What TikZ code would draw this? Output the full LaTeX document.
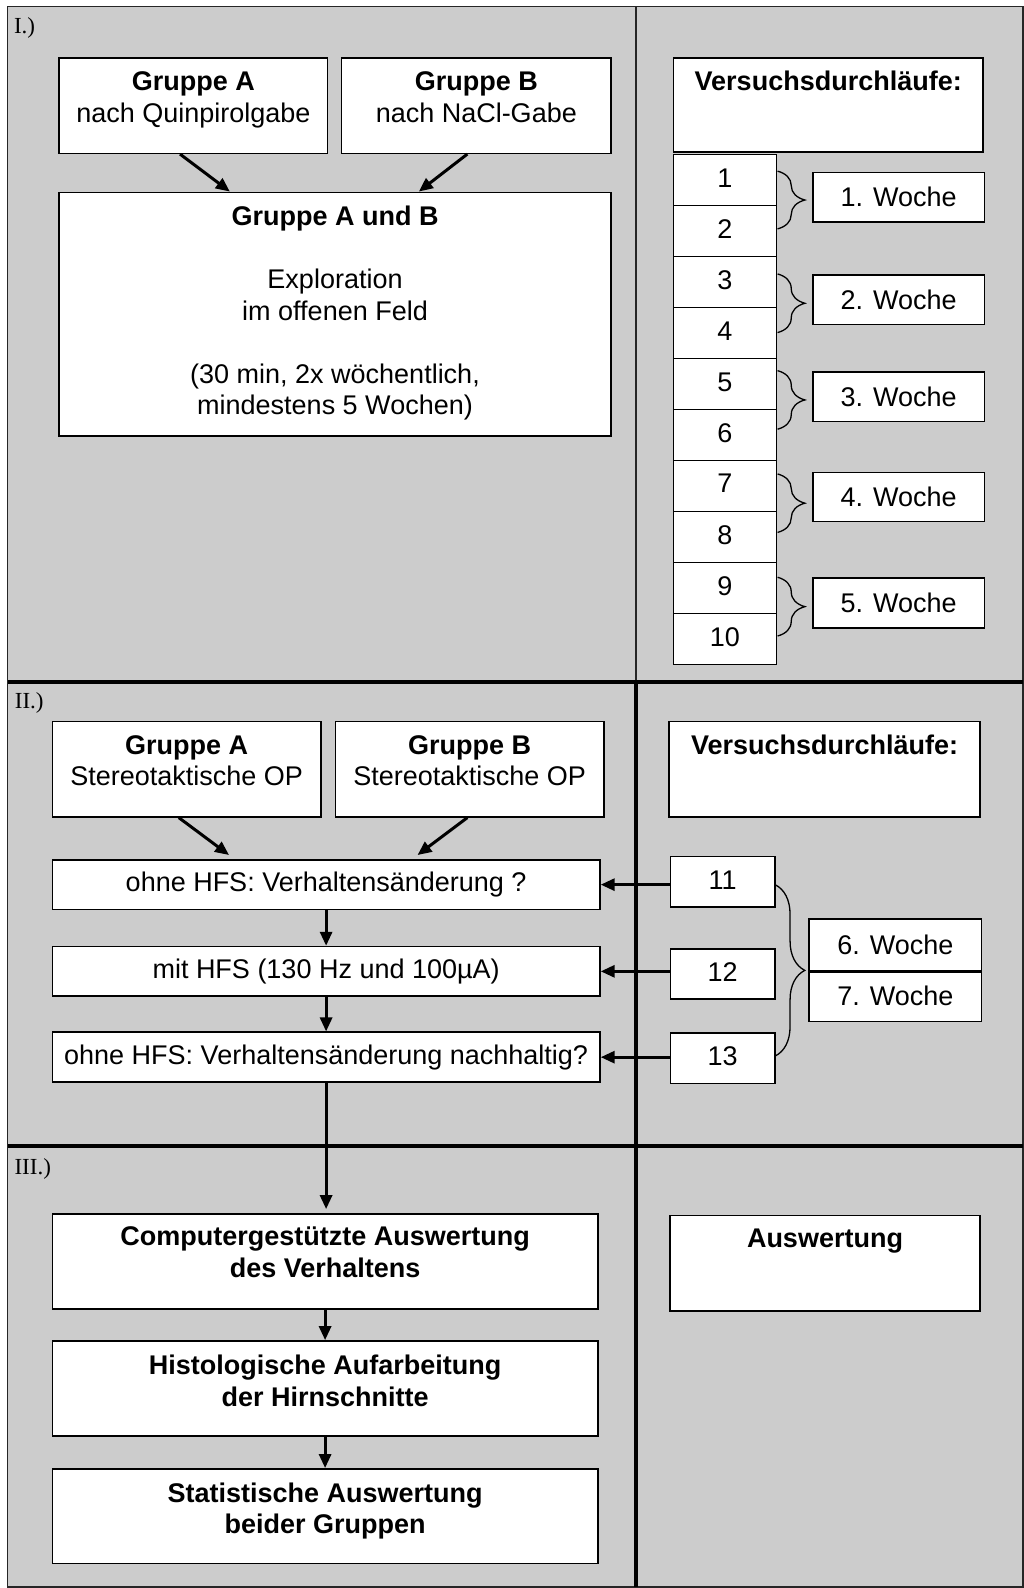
\documentclass[tikz,border=0pt]{standalone}
\usepackage{fontspec}
\setmainfont{Liberation Sans}
\newfontfamily\labelfont{Liberation Serif}
\usetikzlibrary{calc,arrows.meta,decorations.pathreplacing}
\definecolor{panelgray}{RGB}{204,204,204}
\newcommand{\boxnode}[6][]{\node[box,#1,minimum width={(#5-#3)*1.0129pt},minimum height={(#6-#4)*1.0129pt}] (#2) at ({(#3+#5)/2},{(#4+#6)/2})}
\begin{document}
\begin{tikzpicture}[x=1.0129pt, y=-1.0129pt,
  box/.style={draw=black, fill=white, line width=1.5pt, inner sep=0pt, font=\fontsize{27pt}{31.5pt}\selectfont},
  txt/.style={inner sep=0pt, align=center, anchor=north, font=\fontsize{27pt}{31.5pt}\selectfont},
  btxt/.style={txt, font=\fontsize{27pt}{31.5pt}\selectfont\bfseries},
  arr/.style={line width=3pt, -{Triangle[length=14pt,width=12pt]}},
  divider/.style={line width=3.2pt},
  brcA/.style={decorate, decoration={brace, amplitude=27.3pt}, line width=1.3pt},
  brcB/.style={decorate, decoration={brace, amplitude=29.4pt}, line width=1.3pt},
  seclabel/.style={font=\labelfont\fontsize{23pt}{26pt}\selectfont, anchor=west, inner sep=0pt}
]
\useasboundingbox (0,0) rectangle (1011,1568);
\filldraw[fill=panelgray, draw=black!85, line width=1.5pt] (7.5,6.5) rectangle (1010,1567);
\draw[line width=2pt, black!85] (628,6.5) -- (628,673.5);
\draw[divider] (628,673.5) -- (628,1567);
\draw[divider] (7.5,673.5) -- (1010,673.5);
\draw[divider] (7.5,1131.5) -- (1010,1131.5);

% section labels
\node[seclabel] (l1) at (13.7,28) {I.)};
\node[seclabel] (l2) at (14.5,694.4) {II.)};
\node[seclabel] (l3) at (14.2,1154.4) {III.)};

% ---------- Section I ----------
\boxnode{ga}{58.4}{57.3}{323.6}{151.4} {};
\node[txt] (gaT) at (191,70.9) {\textbf{Gruppe A}\\nach Quinpirolgabe};
\boxnode{gb}{337.3}{57.3}{603.2}{151.4} {};
\node[txt] (gbT) at (470.3,70.9) {\textbf{Gruppe B}\\nach NaCl-Gabe};
\boxnode{gab}{58.4}{189.9}{603.2}{430.4} {};
\node[txt] (gabT) at (330.8,203.6) {\textbf{Gruppe A und B}\\[31.5pt]Exploration\\im offenen Feld\\[31.5pt](30 min, 2x wöchentlich,\\mindestens 5 Wochen)};
\draw[arr] ($(ga.south west)+(120.1,0)$) -- ($(gab.north west)+(169.3,0)$);
\draw[arr] ($(gb.south west)+(124.9,0)$) -- ($(gab.north west)+(355.9,0)$);

\boxnode{vd1}{664.8}{57.3}{970.8}{149.9} {};
\node[btxt] (vd1T) at (817.8,69.5) {Versuchsdurchläufe:};
\foreach \i in {1,...,10}{
  \pgfmathsetmacro\ta{152.8+50.35*(\i-1)}
  \pgfmathsetmacro\tb{152.8+50.35*\i}
  \boxnode[text depth=5pt]{n\i}{664.8}{\ta}{766.8}{\tb} {\i};
}
\boxnode{w1}{802.6}{170.4}{972}{219.2} {1. Woche};
\boxnode{w2}{802.6}{271.4}{972}{320.3} {2. Woche};
\boxnode{w3}{802.6}{367.3}{972}{416.2} {3. Woche};
\boxnode{w4}{802.6}{466.7}{972}{515} {4. Woche};
\boxnode{w5}{802.6}{570.7}{972}{620} {5. Woche};
\draw[brcA] (767.8,169) -- (767.8,226);
\draw[brcA] (767.8,270.5) -- (767.8,328.4);
\draw[brcA] (767.8,366) -- (767.8,423.8);
\draw[brcA] (767.8,468) -- (767.8,525.7);
\draw[brcA] (767.8,570) -- (767.8,628);

% ---------- Section II ----------
\boxnode{ga2}{51.6}{712.5}{317}{806.6} {};
\node[txt] (ga2T) at (184.3,725.8) {\textbf{Gruppe A}\\Stereotaktische OP};
\boxnode{gb2}{331.2}{712.5}{596.3}{806.6} {};
\node[txt] (gb2T) at (463.8,725.8) {\textbf{Gruppe B}\\Stereotaktische OP};
\boxnode{o1}{51.6}{849}{592.4}{898} {ohne HFS: Verhaltensänderung ?};
\boxnode{o2}{51.6}{934.6}{592.4}{983.6} {mit HFS (130 Hz und 100µA)};
\boxnode{o3}{51.6}{1019.2}{592.4}{1068.5} {ohne HFS: Verhaltensänderung nachhaltig?};
\draw[arr] ($(ga2.south west)+(125.7,0)$) -- ($(o1.north west)+(175.3,-4)$);
\draw[arr] ($(gb2.south west)+(131,0)$) -- ($(o1.north west)+(361.4,-4)$);
\draw[arr] (o1.south) -- (o2.north);
\draw[arr] (o2.south) -- (o3.north);

\boxnode{vd2}{660.8}{712.5}{967.8}{806.6} {};
\node[btxt] (vd2T) at (814.3,725.8) {Versuchsdurchläufe:};
\boxnode[text depth=4pt]{n11}{661.8}{845.8}{765.1}{895.8} {11};
\boxnode[text depth=4pt]{n12}{661.8}{937}{765.1}{986.3} {12};
\boxnode[text depth=4pt]{n13}{661.8}{1020.2}{765.1}{1069.6} {13};
\draw[arr] (n11.west |- o1.east) -- (o1.east);
\draw[arr] (n12.west |- o2.east) -- (o2.east);
\draw[arr] (n13.west |- o3.east) -- (o3.east);
\boxnode{w6}{799}{907.6}{969.2}{958.6} {6. Woche};
\boxnode{w7}{799}{958.6}{969.2}{1008.7} {7. Woche};
\draw[line width=3pt] (w6.south west) -- (w6.south east);
\draw[brcB] (765.6,873.7) -- (765.6,1042.6);

% ---------- Section III ----------
\boxnode{c1}{51.6}{1198.6}{590.4}{1292.4} {};
\node[btxt] (c1T) at (321,1211.3) {Computergestützte Auswertung\\des Verhaltens};
\boxnode{c2}{51.6}{1324}{590.4}{1417.7} {};
\node[btxt] (c2T) at (321,1337.9) {Histologische Aufarbeitung\\der Hirnschnitte};
\boxnode{c3}{51.6}{1450.3}{590.4}{1544} {};
\node[btxt] (c3T) at (321,1463.9) {Statistische Auswertung\\beider Gruppen};
\boxnode{aw}{661.5}{1200.2}{967.8}{1294.3} {};
\node[btxt] (awT) at (814.6,1212.9) {Auswertung};
\draw[arr] (o3.south) -- ($(o3.south |- c1.north)+(0,-4)$);
\draw[arr] (c1.south) -- (c2.north);
\draw[arr] (c2.south) -- (c3.north);
\end{tikzpicture}
\end{document}
